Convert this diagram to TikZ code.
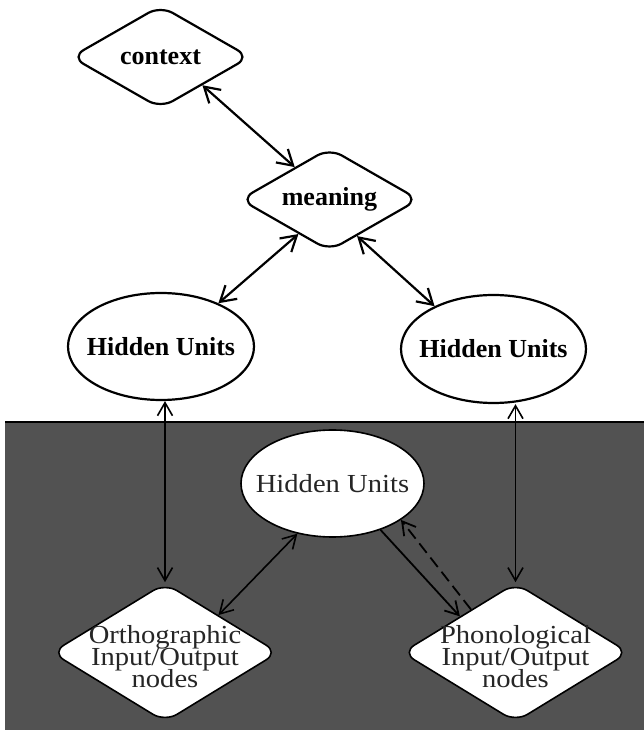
\documentclass[tikz,border=0pt]{standalone}
\usepackage{fontspec}
\setmainfont{Liberation Serif}
\newfontfamily\widefont[FakeStretch=1.1]{Liberation Serif}
\newcommand\lowtext{\widefont\fontsize{26}{22}\selectfont\lineskiplimit=-20pt\relax}
\newcommand\topstrut{\rule{0pt}{26pt}}
\usetikzlibrary{shapes,arrows.meta,positioning}

\begin{document}
\begin{tikzpicture}[
    x=1pt, y=1pt,
    topfont/.style={font=\fontsize{26}{28}\selectfont\bfseries},
    lowfont/.style={font=\lowtext, text=black!85},
    topdiam/.style={diamond, draw, line width=2.2pt, rounded corners=14pt, fill=white, aspect=1.74, inner sep=0pt, minimum width=179pt, minimum height=103pt, topfont},
    topunit/.style={ellipse, draw, line width=2.2pt, fill=white, inner sep=-14pt, minimum width=186pt, minimum height=107pt, topfont},
    lowunit/.style={ellipse, draw, line width=1.6pt, fill=white, inner sep=-14pt, minimum width=183pt, minimum height=107pt, lowfont},
    lowdiam/.style={diamond, draw, line width=1.6pt, rounded corners=14pt, fill=white, aspect=1.63, inner xsep=0pt, inner ysep=-22pt, minimum width=227pt, minimum height=139pt, align=center, lowfont},
    link/.style={{Straight Barb[length=15pt,width=18pt]}-{Straight Barb[length=15pt,width=18pt]}, line width=2.2pt},
    lowlink/.style={{Straight Barb[length=13pt,width=15pt]}-{Straight Barb[length=13pt,width=15pt]}, line width=1.6pt},
    onelink/.style={-{Straight Barb[length=13pt,width=15pt]}, line width=1.8pt},
    dashlink/.style={-{Straight Barb[length=13pt,width=15pt]}, line width=1.8pt, dash pattern=on 12pt off 6pt}
]
\useasboundingbox (0,0) rectangle (644,732);

% Shaded panel (lower part)
\fill[black!68] (5,2) rectangle (644,310);
\draw[line width=1.6pt] (5,310) -- (644,310);

% Upper part
\node[topdiam] (context) at (160.5,675) {context};
\node[topdiam] (meaning) at (329.5,532.5) {meaning};
\node[topunit] (huleft) at (161,385.5) {Hidden Units};
\node[topunit, minimum width=185pt, minimum height=108pt] (huright) at (493.5,383) {Hidden Units};

% Lower part
\node[lowunit] (hucenter) at (332.5,248.5) {Hidden Units};
\node[lowdiam] (orth) at (165,79.5) {\topstrut Orthographic\\Input/Output\\nodes};
\node[lowdiam] (phon) at (515.5,79.5) {\topstrut Phonological\\Input/Output\\nodes};

% Arrows - upper
\draw[link] (context.-34) -- (meaning.137);
\draw[link] (meaning.-132) -- (huleft.37);
\draw[link] (meaning.-53) -- (huright.144);

% Arrows - lower
\draw[lowlink] (huleft.south -| orth.north) -- (orth.north);
\draw[lowlink] (huright.south -| phon.north) -- (phon.north);
\draw[lowlink] (orth.35) -- (hucenter.-125);
\draw[onelink] (hucenter.-44) -- (phon.147);
\draw[dashlink] (phon.136) -- (hucenter.-28);

\end{tikzpicture}
\end{document}
